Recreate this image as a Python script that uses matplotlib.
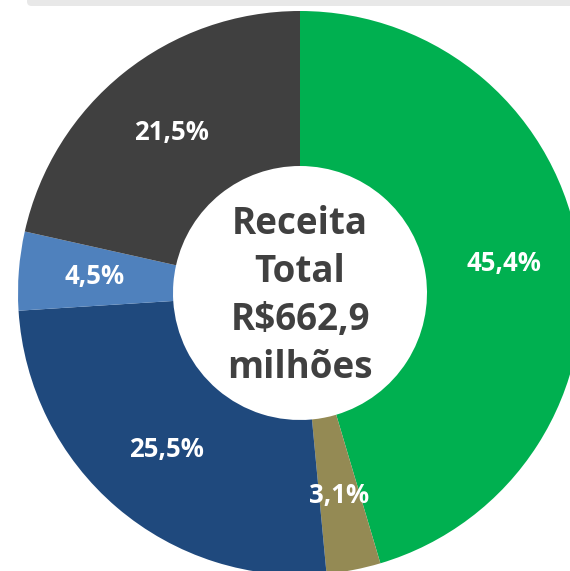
import matplotlib
matplotlib.use('Agg')
import matplotlib.pyplot as plt
from matplotlib.patches import FancyBboxPatch

plt.rcParams['font.family'] = ['Open Sans', 'DejaVu Sans']

shares = [45.4, 3.1, 25.5, 4.5, 21.5]
colors = ['#00B050', '#948A54', '#1F497D', '#4F81BD', '#404040']
center_text = "Receita\nTotal\nR$662,9\nmilhões"

fig = plt.figure(figsize=(5.70, 5.71), dpi=100)
ax = fig.add_axes([0, 0, 1, 1])

# top gray strip
fig.patches.append(FancyBboxPatch((27/570, 1 - 6/571), 1, 12/571,
                                  boxstyle="round,pad=0,rounding_size=0.008",
                                  transform=fig.transFigure, fc='#E8E8E8', ec='none'))

wedges, texts, autotexts = ax.pie(
    shares, colors=colors, startangle=90, counterclock=False, radius=1,
    autopct=lambda p: ('%.1f%%' % p).replace('.', ','), pctdistance=0.73,
    wedgeprops=dict(width=1 - 127/282, edgecolor='none'),
    textprops=dict(color='white', fontsize=18.5, fontweight='bold'))

ax.text(0, -0.01, center_text, ha='center', va='center', fontsize=26.5,
        fontweight='bold', color='#404040', linespacing=1.35)

s = 282.0
ax.set_xlim(-300/s, 270/s)
ax.set_ylim(-(571-293)/s, 293/s)
ax.set_aspect('equal')
ax.axis('off')

fig.savefig('out.png', dpi=100)
